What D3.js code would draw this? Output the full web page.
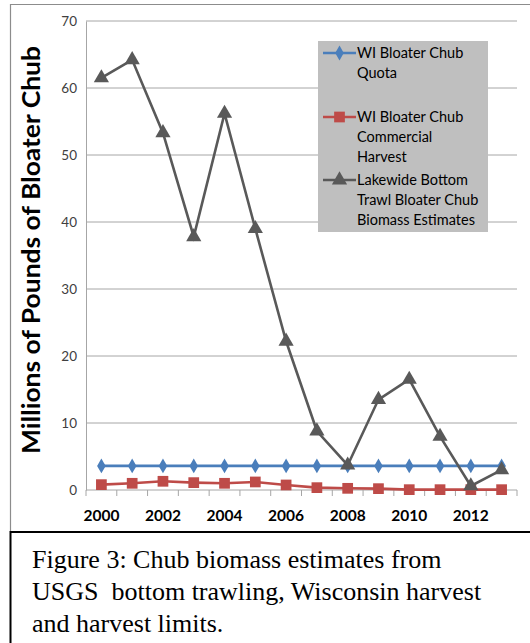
<!DOCTYPE html>
<html>
<head>
<meta charset="utf-8">
<script src="https://cdn.jsdelivr.net/npm/d3@7"></script>
<style>
  html, body { margin: 0; padding: 0; background: #fff; }
  svg { display: block; }
</style>
</head>
<body>
<script>
;(() => {
    var width = 530, height = 643;

    // data
    var years = [2000, 2001, 2002, 2003, 2004, 2005, 2006, 2007, 2008, 2009, 2010, 2011, 2012, 2013];
    var quota = [3.6, 3.6, 3.6, 3.6, 3.6, 3.6, 3.6, 3.6, 3.6, 3.6, 3.6, 3.6, 3.6, 3.6];
    var harvest = [0.8, 1.0, 1.3, 1.1, 1.0, 1.2, 0.75, 0.35, 0.25, 0.2, 0.05, 0.05, 0.05, 0.05];
    var biomass = [61.5, 64.2, 53.3, 37.8, 56.2, 39.0, 22.2, 8.8, 3.7, 13.5, 16.5, 8.0, 0.6, 3.0];
    var yTicks = [0, 10, 20, 30, 40, 50, 60, 70];
    var xLabels = [2000, 2002, 2004, 2006, 2008, 2010, 2012];
    var seriesNames = [
        ['WI Bloater Chub', 'Quota'],
        ['WI Bloater Chub', 'Commercial', 'Harvest'],
        ['Lakewide Bottom', 'Trawl Bloater Chub', 'Biomass Estimates']
    ];
    var captionLines = [
        'Figure 3: Chub biomass estimates from',
        'USGS  bottom trawling, Wisconsin harvest',
        'and harvest limits.'
    ];

    var series = [
        { name: seriesNames[0], values: quota, color: '#4a7ebb', marker: 'diamond' },
        { name: seriesNames[1], values: harvest, color: '#be4b48', marker: 'square' },
        { name: seriesNames[2], values: biomass, color: '#595959', marker: 'triangle' }
    ];

    var plot = { left: 86, right: 517, top: 21, bottom: 490 };
    var sans = 'Lato, "Open Sans", sans-serif';

    var svg = d3.select('body')
        .append('svg')
        .attr('width', width)
        .attr('height', height);

    // chart frame
    svg.append('path')
        .attr('d', 'M10.5,532V4.5H' + (width + 2))
        .attr('fill', 'none')
        .attr('stroke', '#8c8c8c')
        .attr('stroke-width', 1.2);

    var x = d3.scaleBand().domain(years).range([plot.left, plot.right]),
        y = d3.scaleLinear().domain([0, 70]).range([plot.bottom, plot.top]);
    var cx = d => x(d) + x.bandwidth() / 2;

    // gridlines
    svg.selectAll('line.grid')
        .data(yTicks.filter(d => d > 0))
        .enter()
        .append('line')
        .classed('grid', true)
        .attr('x1', plot.left)
        .attr('x2', plot.right)
        .attr('y1', d => y(d))
        .attr('y2', d => y(d))
        .attr('stroke', '#a6a6a6')
        .attr('stroke-width', 1);

    // y axis
    var yAxis = svg.append('g')
        .attr('transform', 'translate(' + plot.left + ',0)')
        .call(d3.axisLeft(y).tickValues(yTicks).tickSize(0).tickPadding(9));
    yAxis.select('.domain').attr('stroke', '#a6a6a6');
    yAxis.selectAll('text')
        .attr('font-family', sans)
        .attr('font-size', 13.5)
        .attr('fill', '#404040');

    // x axis, ticks between categories
    var bounds = years.map(d => x(d)).concat([plot.right]);
    svg.append('line')
        .attr('x1', plot.left).attr('x2', plot.right)
        .attr('y1', plot.bottom).attr('y2', plot.bottom)
        .attr('stroke', '#a6a6a6');
    svg.selectAll('line.xtick')
        .data(bounds)
        .enter()
        .append('line')
        .classed('xtick', true)
        .attr('x1', d => d).attr('x2', d => d)
        .attr('y1', plot.bottom).attr('y2', plot.bottom + 6)
        .attr('stroke', '#a6a6a6');
    svg.selectAll('text.xlab')
        .data(xLabels)
        .enter()
        .append('text')
        .classed('xlab', true)
        .attr('x', cx)
        .attr('y', plot.bottom + 31)
        .attr('text-anchor', 'middle')
        .attr('font-family', sans)
        .attr('font-weight', 'bold')
        .attr('font-size', 15.5)
        .attr('fill', '#000')
        .text(d => d);

    // y title
    svg.append('text')
        .attr('transform', 'translate(40,250) rotate(-90)')
        .attr('text-anchor', 'middle')
        .attr('font-family', sans)
        .attr('font-weight', 'bold')
        .attr('font-size', 24)
        .attr('textLength', 408)
        .attr('lengthAdjust', 'spacingAndGlyphs')
        .attr('fill', '#000')
        .text('Millions of Pounds of Bloater Chub');

    var symbols = {
        diamond: d3.symbol().type(d3.symbolDiamond).size(64),
        square: d3.symbol().type(d3.symbolSquare).size(115),
        triangle: d3.symbol().type(d3.symbolTriangle).size(100)
    };

    var line = d3.line()
        .x((d, i) => cx(years[i]))
        .y(d => y(d));

    var g = svg.selectAll('g.series')
        .data(series)
        .enter()
        .append('g')
        .classed('series', true);
    g.append('path')
        .attr('d', d => line(d.values))
        .attr('fill', 'none')
        .attr('stroke', d => d.color)
        .attr('stroke-width', 2.6);
    g.each(function (s) {
        d3.select(this).selectAll('path.pt')
            .data(s.values)
            .enter()
            .append('path')
            .classed('pt', true)
            .attr('transform', (d, i) => 'translate(' + cx(years[i]) + ',' + y(d) + ')')
            .attr('d', symbols[s.marker]())
            .attr('fill', s.color);
    });

    // legend
    var legend = svg.append('g');
    legend.append('rect')
        .attr('x', 318).attr('y', 41)
        .attr('width', 170).attr('height', 191)
        .attr('fill', '#bfbfbf');
    var rowTop = [53, 117, 180];
    series.forEach((s, i) => {
        var ly = rowTop[i];
        legend.append('line')
            .attr('x1', 323).attr('x2', 356)
            .attr('y1', ly).attr('y2', ly)
            .attr('stroke', s.color)
            .attr('stroke-width', 2.6);
        legend.append('path')
            .attr('transform', 'translate(339.5,' + ly + ')')
            .attr('d', symbols[s.marker]())
            .attr('fill', s.color);
        legend.selectAll(null)
            .data(s.name)
            .enter()
            .append('text')
            .attr('x', 357)
            .attr('y', (d, j) => ly + j * 20 + 5)
            .attr('font-family', sans)
            .attr('font-size', 14.5)
            .attr('fill', '#000')
            .text(d => d);
    });

    // caption box
    svg.append('path')
        .attr('d', 'M10.5,' + (height + 2) + 'V532H' + (width + 2))
        .attr('fill', 'none')
        .attr('stroke', '#000')
        .attr('stroke-width', 2);
    svg.selectAll('text.caption')
        .data(captionLines)
        .enter()
        .append('text')
        .classed('caption', true)
        .attr('x', 32)
        .attr('y', (d, i) => 568 + i * 32)
        .attr('font-family', '"Liberation Serif", "DejaVu Serif", serif')
        .attr('font-size', 26)
        .attr('fill', '#000')
        .style('white-space', 'pre')
        .text(d => d);
})();
</script>
</body>
</html>
